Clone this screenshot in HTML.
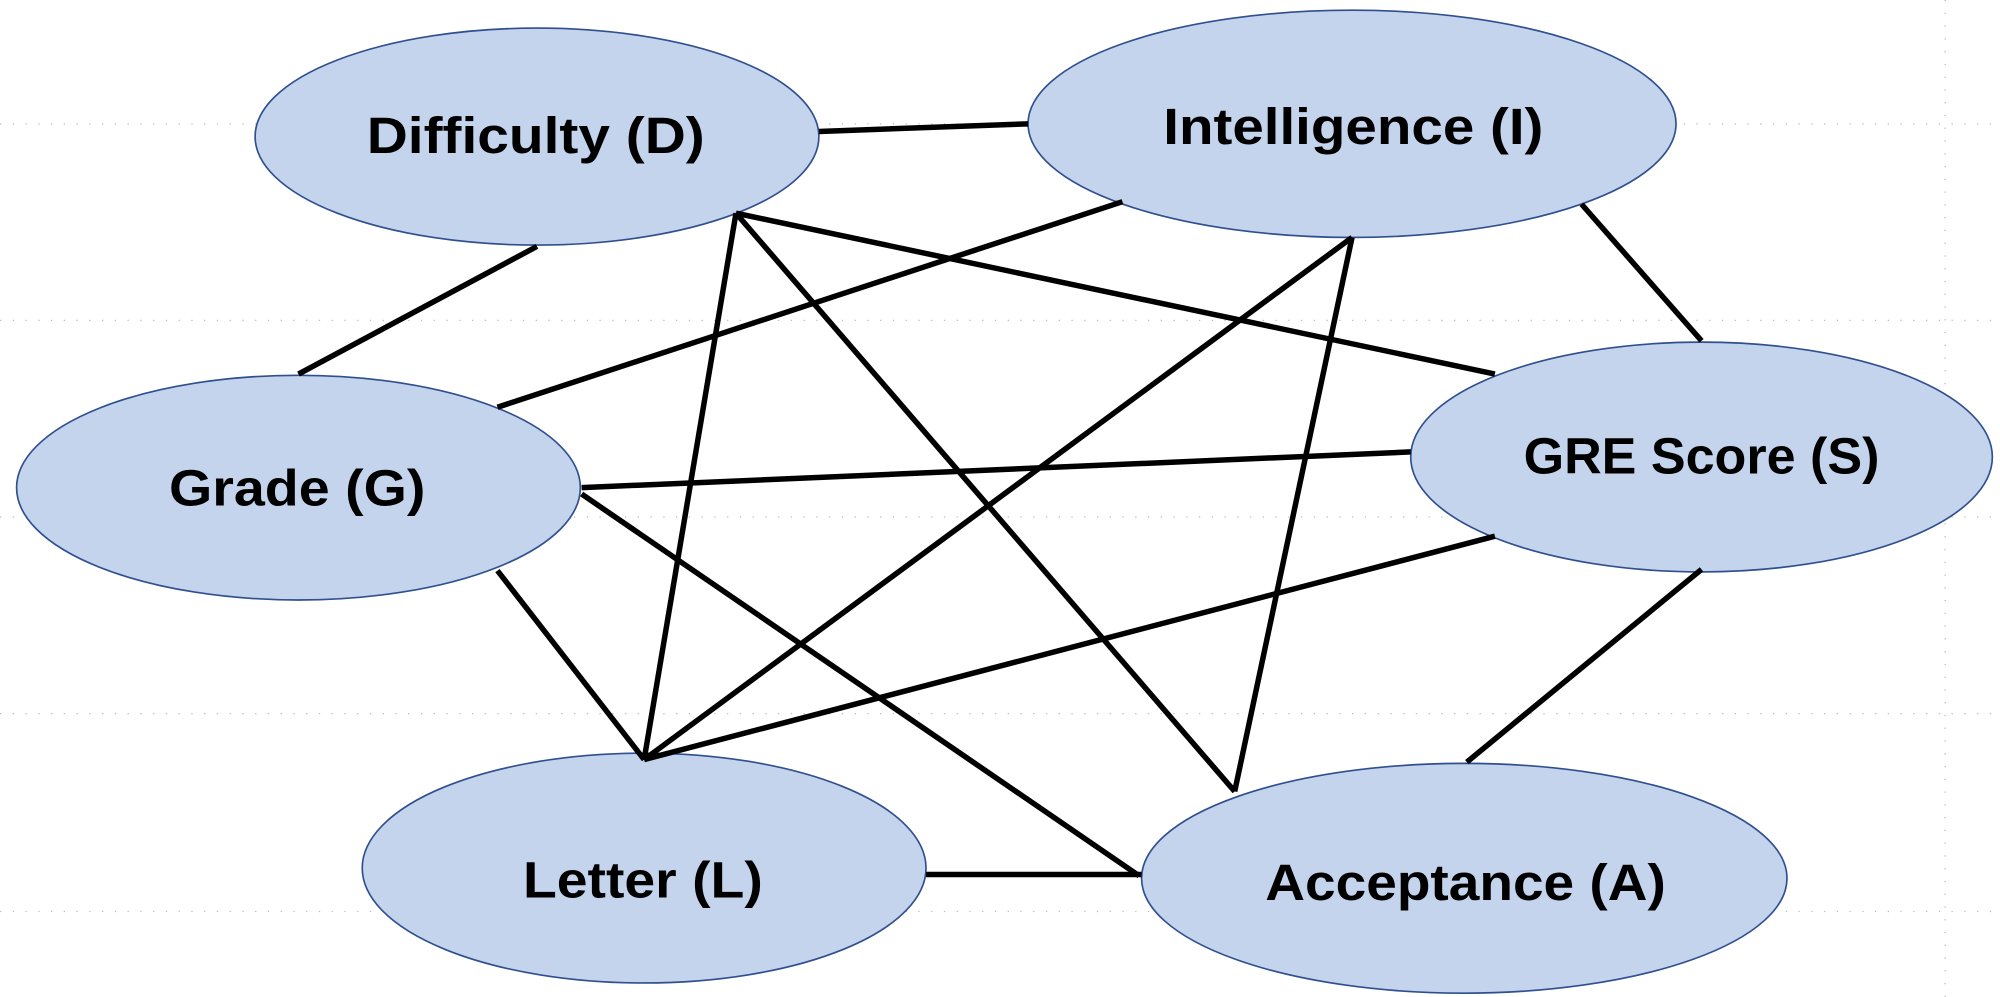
<!DOCTYPE html>
<html><head><meta charset="utf-8"><style>html,body{margin:0;padding:0;background:#fff}svg{display:block}</style></head>
<body>
<svg width="2000" height="997" viewBox="0 0 1568 781" preserveAspectRatio="none" xmlns="http://www.w3.org/2000/svg">
<g stroke="#bbb" stroke-width="1" stroke-dasharray="1,9">
<line x1="0" y1="97" x2="1568" y2="97"/>
<line x1="0" y1="251" x2="1568" y2="251"/>
<line x1="0" y1="405" x2="1568" y2="405"/>
<line x1="0" y1="559" x2="1568" y2="559"/>
<line x1="0" y1="714" x2="1568" y2="714"/>
<line x1="1525" y1="0" x2="1525" y2="781"/>
</g>
<g fill="#c5d4ed" stroke="#2f4f8f" stroke-width="1.3">
<ellipse cx="421" cy="107" rx="221" ry="85"/>
<ellipse cx="1060" cy="97" rx="254" ry="89"/>
<ellipse cx="234" cy="382" rx="221" ry="88"/>
<ellipse cx="1334" cy="358" rx="228" ry="90"/>
<ellipse cx="505" cy="680" rx="221" ry="90"/>
<ellipse cx="1148" cy="688" rx="253" ry="90"/>
</g>
<g stroke="#000" stroke-width="4.3" stroke-linecap="butt">
<line x1="642" y1="103" x2="806" y2="97"/>
<line x1="421" y1="193" x2="234" y2="293"/>
<line x1="880" y1="158" x2="390" y2="319"/>
<line x1="1240" y1="160" x2="1334" y2="267"/>
<line x1="577" y1="167" x2="1172" y2="293"/>
<line x1="577" y1="167" x2="505" y2="595"/>
<line x1="577" y1="167" x2="968" y2="620"/>
<line x1="1060" y1="186" x2="505" y2="595"/>
<line x1="1060" y1="186" x2="968" y2="620"/>
<line x1="456" y1="382" x2="1106" y2="354"/>
<line x1="390" y1="447" x2="505" y2="595"/>
<line x1="456" y1="387" x2="893" y2="686"/>
<line x1="1172" y1="420" x2="505" y2="595"/>
<line x1="1334" y1="446" x2="1150" y2="597"/>
<line x1="726" y1="685" x2="895" y2="685"/>
</g>
<g font-family="Liberation Sans, sans-serif" font-weight="bold" font-size="40" text-anchor="middle" fill="#000" lengthAdjust="spacingAndGlyphs">
<text x="420" y="120" textLength="265" lengthAdjust="spacingAndGlyphs">Difficulty (D)</text>
<text x="1061" y="113" textLength="298" lengthAdjust="spacingAndGlyphs">Intelligence (I)</text>
<text x="233" y="396" textLength="201" lengthAdjust="spacingAndGlyphs">Grade (G)</text>
<text x="1334" y="371" textLength="279" lengthAdjust="spacingAndGlyphs">GRE Score (S)</text>
<text x="504" y="703" textLength="188" lengthAdjust="spacingAndGlyphs">Letter (L)</text>
<text x="1149" y="705" textLength="314" lengthAdjust="spacingAndGlyphs">Acceptance (A)</text>
</g>
</svg>
</body></html>
